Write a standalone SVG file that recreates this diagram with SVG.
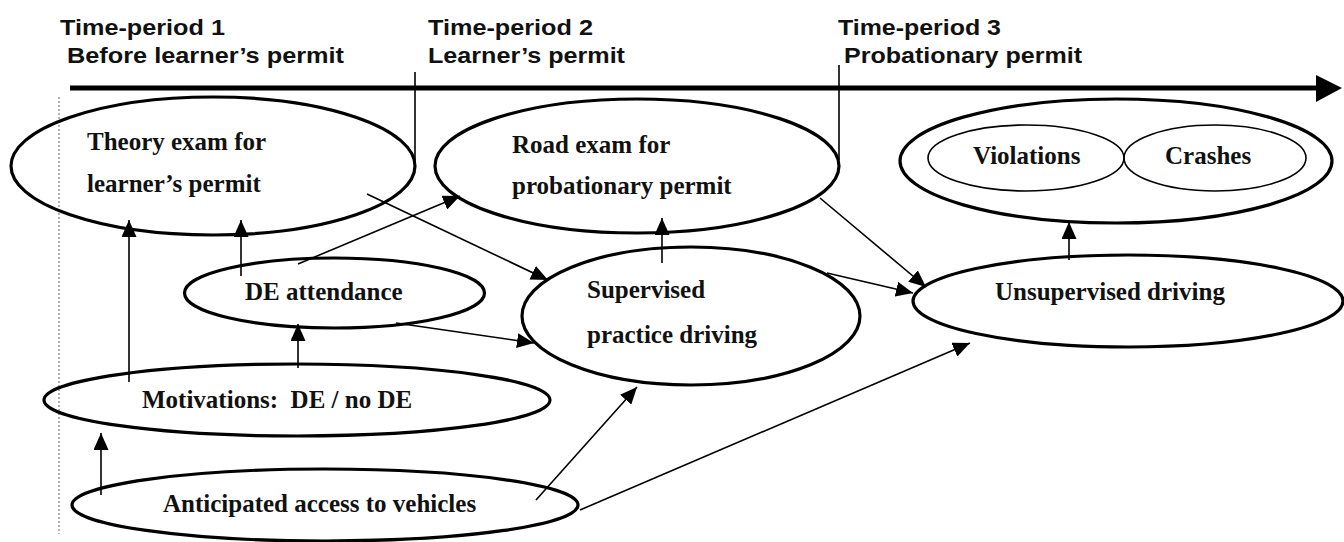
<svg xmlns="http://www.w3.org/2000/svg" width="1344" height="542" viewBox="0 0 1344 542">
<style>
.node{fill:none;stroke:#000;stroke-width:3.2}
.inner{fill:none;stroke:#000;stroke-width:1.6}
.lbl{font-family:"Liberation Serif","Times New Roman",serif;font-weight:bold;font-size:25px;fill:#111;white-space:pre}
.hdr{font-family:"Liberation Sans",Arial,sans-serif;font-weight:bold;font-size:22px;fill:#111}
.conn line{stroke:#000;stroke-width:1.6;marker-end:url(#ah)}
</style>
<defs>
<marker id="ah" markerWidth="17" markerHeight="15" refX="17" refY="7.5" orient="auto" markerUnits="userSpaceOnUse">
<path d="M0,0 L17,7.5 L0,15 z" fill="#000"/>
</marker>
</defs>
<rect width="1344" height="542" fill="#fff"/>

<g id="timeline">
<line x1="70" y1="88" x2="1318" y2="88" stroke="#000" stroke-width="5"/>
<path d="M1316,75 L1342,88 L1316,102 z" fill="#000"/>
<line x1="415" y1="72" x2="415" y2="166" stroke="#000" stroke-width="1.6"/>
<line x1="839" y1="65" x2="839" y2="160" stroke="#000" stroke-width="1.6"/>
<line x1="59" y1="97" x2="59" y2="534" stroke="#666" stroke-width="1" stroke-dasharray="2,2"/>
<text class="hdr" x="60" y="35" textLength="165" lengthAdjust="spacingAndGlyphs">Time-period 1</text>
<text class="hdr" x="67" y="63" textLength="277" lengthAdjust="spacingAndGlyphs">Before learner’s permit</text>
<text class="hdr" x="428" y="35" textLength="165" lengthAdjust="spacingAndGlyphs">Time-period 2</text>
<text class="hdr" x="428" y="63" textLength="197" lengthAdjust="spacingAndGlyphs">Learner’s permit</text>
<text class="hdr" x="838" y="35" textLength="163" lengthAdjust="spacingAndGlyphs">Time-period 3</text>
<text class="hdr" x="844" y="63" textLength="238" lengthAdjust="spacingAndGlyphs">Probationary permit</text>
</g>

<g id="theory">
<ellipse class="node" cx="213" cy="166" rx="202" ry="69"/>
<text class="lbl" x="87" y="150">Theory exam for</text>
<text class="lbl" x="87" y="192">learner’s permit</text>
</g>

<g id="road">
<ellipse class="node" cx="637" cy="166" rx="202" ry="67"/>
<text class="lbl" x="512" y="153">Road exam for</text>
<text class="lbl" x="512" y="194">probationary permit</text>
</g>

<g id="outcomes">
<ellipse class="node" cx="1116" cy="161" rx="216" ry="62"/>
<ellipse class="inner" cx="1026" cy="158" rx="98" ry="33"/>
<ellipse class="inner" cx="1215" cy="158" rx="91" ry="33"/>
<text class="lbl" x="973" y="164">Violations</text>
<text class="lbl" x="1165" y="164">Crashes</text>
</g>

<g id="de">
<ellipse class="node" cx="334.5" cy="293" rx="150" ry="35"/>
<text class="lbl" x="245" y="300">DE attendance</text>
</g>

<g id="supervised">
<ellipse class="node" cx="691" cy="316" rx="169" ry="69"/>
<text class="lbl" x="587" y="298">Supervised</text>
<text class="lbl" x="587" y="343">practice driving</text>
</g>

<g id="unsupervised">
<ellipse class="node" cx="1128" cy="301" rx="215" ry="46"/>
<text class="lbl" x="995" y="300">Unsupervised driving</text>
</g>

<g id="motivations">
<ellipse class="node" cx="297" cy="400" rx="253" ry="36"/>
<text class="lbl" x="142" y="408" xml:space="preserve">Motivations:  DE / no DE</text>
</g>

<g id="access">
<ellipse class="node" cx="325" cy="505" rx="253" ry="36"/>
<text class="lbl" x="163" y="512">Anticipated access to vehicles</text>
</g>

<g id="connectors" class="conn">
<line x1="129" y1="382" x2="129" y2="220"/>
<line x1="241" y1="276" x2="241" y2="220"/>
<line x1="298" y1="264" x2="460" y2="196"/>
<line x1="367" y1="194" x2="548" y2="280"/>
<line x1="396" y1="323" x2="534" y2="343"/>
<line x1="298" y1="368" x2="298" y2="324"/>
<line x1="101" y1="495" x2="101" y2="433"/>
<line x1="662" y1="263" x2="662" y2="218"/>
<line x1="827" y1="273" x2="913" y2="293"/>
<line x1="820" y1="198" x2="926" y2="287"/>
<line x1="1069" y1="260" x2="1069" y2="222"/>
<line x1="536" y1="500" x2="637" y2="387"/>
<line x1="580" y1="510" x2="970" y2="343"/>
</g>
</svg>
